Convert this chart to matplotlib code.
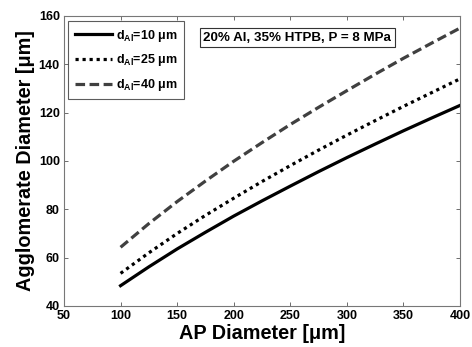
import matplotlib
matplotlib.use("Agg")
import matplotlib.pyplot as plt

plt.rcParams['font.family'] = ['Liberation Sans', 'DejaVu Sans']
plt.rcParams['font.weight'] = 'bold'
plt.rcParams['mathtext.fontset'] = 'custom'
plt.rcParams['mathtext.rm'] = 'Liberation Sans:bold'
plt.rcParams['mathtext.bf'] = 'Liberation Sans:bold'
plt.rcParams['mathtext.default'] = 'rm'

ap_diameter = [100, 125, 150, 175, 200, 225, 250, 275, 300, 325, 350, 375, 400]
d_al_10 = [48.4, 56.2, 63.6, 70.5, 77.2, 83.5, 89.6, 95.6, 101.4, 107.0, 112.5, 117.8, 123.0]
d_al_25 = [53.5, 62.0, 70.0, 77.5, 84.6, 91.5, 98.1, 104.5, 110.7, 116.7, 122.6, 128.3, 134.0]
d_al_40 = [64.3, 74.1, 83.2, 91.7, 99.9, 107.6, 115.1, 122.2, 129.1, 135.9, 142.5, 148.8, 155.0]
labels = [r'd$_{\rm Al}$=10 μm', r'd$_{\rm Al}$=25 μm', r'd$_{\rm Al}$=40 μm']
xticks = [50, 100, 150, 200, 250, 300, 350, 400]
yticks = [40, 60, 80, 100, 120, 140, 160]

fig = plt.figure(figsize=(4.72, 3.47), dpi=100)
ax = fig.add_axes([0.1356, 0.1182, 0.8390, 0.8357])

ax.plot(ap_diameter, d_al_10, color='black', lw=2.3, ls='-', label=labels[0])
ax.plot(ap_diameter, d_al_25, color='black', lw=2.3, ls=(0, (1, 1.2)), label=labels[1])
ax.plot(ap_diameter, d_al_40, color='#404040', lw=2.3, ls=(0, (3, 1.4)), label=labels[2])

ax.set_xlim(50, 400)
ax.set_ylim(40, 160)
ax.set_xticks(xticks)
ax.set_yticks(yticks)
ax.tick_params(direction='in', top=True, right=True, length=3, width=0.6,
               color='#555555', labelsize=9, pad=3)
for lab in ax.get_xticklabels() + ax.get_yticklabels():
    lab.set_fontweight('bold')
for s in ax.spines.values():
    s.set_color('#777777')
    s.set_linewidth(0.8)

ax.set_xlabel('AP Diameter [μm]', fontsize=14.3, fontweight='bold', labelpad=1)
ax.set_ylabel('Agglomerate Diameter [μm]', fontsize=14.3, fontweight='bold', labelpad=3)

leg = ax.legend(loc='upper left', bbox_to_anchor=(0.005, 0.99), fontsize=9,
                frameon=True, fancybox=False, handlelength=3.0, handletextpad=0.3,
                borderpad=0.5, labelspacing=0.7, borderaxespad=0.2)
leg.get_frame().set_edgecolor('#333333')
leg.get_frame().set_linewidth(0.8)
for t in leg.get_texts():
    t.set_fontweight('bold')

ax.text(0.352, 0.925, '20% Al, 35% HTPB, P = 8 MPa', transform=ax.transAxes,
        fontsize=9.6, fontweight='bold', va='center', ha='left',
        bbox=dict(boxstyle='square,pad=0.25', facecolor='white', edgecolor='#333333', linewidth=0.8))

fig.savefig('out.png', dpi=100)
